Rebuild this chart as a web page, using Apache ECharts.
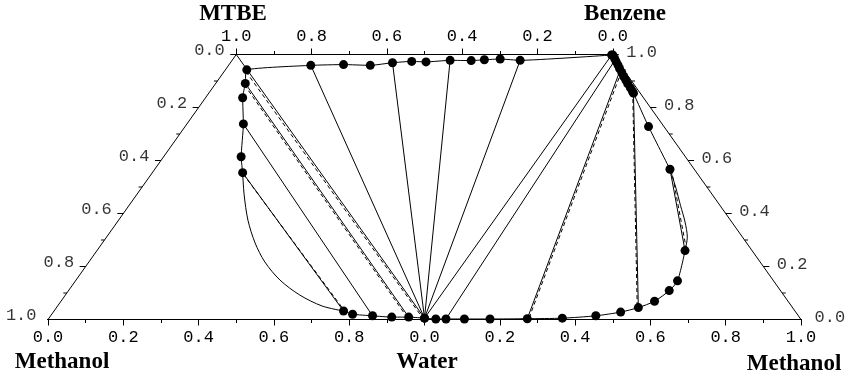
<!DOCTYPE html>
<html><head><meta charset="utf-8">
<script src="https://cdn.jsdelivr.net/npm/echarts@6/dist/echarts.min.js"></script>
<style>html,body{margin:0;padding:0;background:#fff}#c{width:857px;height:378px}</style>
</head><body><div id="c"></div>
<script>
// Unfolded diagram coordinates: x along the base (0 = Methanol, 1 = Water, 2 = Methanol), y = height fraction (1 = MTBE/Benzene edge)
const bottomLabels = ['0.0','0.2','0.4','0.6','0.8','0.0','0.2','0.4','0.6','0.8','1.0'];
const topLabels = ['0.0','0.2','0.4','0.6','0.8','1.0'];
const leftEdgeLabels = ['0.0','0.2','0.4','0.6','0.8','1.0'];   // top -> bottom
const rightEdgeLabels = ['1.0','0.8','0.6','0.4','0.2','0.0'];  // top -> bottom
const titles = ['MTBE','Benzene','Methanol','Water','Methanol'];

const leftBottom = [[1.000,0.005],[0.958,0.009],[0.913,0.009],[0.862,0.014],[0.809,0.020],[0.785,0.032]];
const leftArc = [[0.785,0.032],[0.728,0.051],[0.669,0.092],[0.616,0.149],[0.576,0.217],[0.550,0.289],
  [0.531,0.375],[0.521,0.470],[0.517,0.554]];
const leftTop = [[0.517,0.554],[0.513,0.614],[0.519,0.738],[0.517,0.837],[0.524,0.891],[0.528,0.942],
  [0.698,0.959],[0.785,0.962],[0.856,0.959],[0.915,0.969],[0.966,0.974],[1.004,0.972],[1.068,0.978],
  [1.124,0.977],[1.159,0.980],[1.201,0.983],[1.254,0.978],[1.497,0.998]];
const rightTop = [[1.500,0.998],[1.505,0.985],[1.509,0.973],[1.514,0.960],[1.518,0.947],[1.524,0.932],
  [1.529,0.917],[1.535,0.903],[1.540,0.889],[1.547,0.874],[1.552,0.862],[1.555,0.854],[1.595,0.728],[1.652,0.567]];
const rightArc = [[1.652,0.567],[1.667,0.500],[1.680,0.430],[1.692,0.368],[1.698,0.311],[1.692,0.260]];
const rightBottom = [[1.692,0.260],[1.672,0.146],[1.650,0.109],[1.611,0.069],[1.568,0.045],[1.521,0.028],
  [1.455,0.014],[1.366,0.005],[1.273,0.003],[1.174,0.002],[1.106,0.002],[1.057,0.002],[1.030,0.002],[1.000,0.005]];

const tieExp = [
  [[0.500,1.000],[1.000,0.005]],
  [[0.524,0.891],[0.958,0.009]],
  [[0.519,0.738],[0.862,0.014]],
  [[0.517,0.554],[0.785,0.032]],
  [[0.698,0.959],[1.000,0.005]],
  [[0.915,0.969],[1.000,0.005]],
  [[1.068,0.978],[1.000,0.005]],
  [[1.254,0.978],[1.000,0.005]],
  [[1.497,0.998],[1.000,0.005]],
  [[1.506,0.979],[1.057,0.002]],
  [[1.520,0.942],[1.273,0.003]],
  [[1.555,0.854],[1.568,0.045]],
  [[1.652,0.567],[1.692,0.260]]
];
const tieCalc = [
  [[0.526,0.935],[0.995,0.006]],
  [[0.522,0.885],[0.953,0.010]],
  [[0.519,0.548],[0.789,0.030]],
  [[1.523,0.936],[1.277,0.003]],
  [[1.553,0.858],[1.565,0.045]],
  [[1.656,0.565],[1.696,0.262]]
];

const black = '#000';
const monoFont = 'Liberation Mono';
const series = [];

function curve(data, smooth, sym) {
  series.push({type:'line', data:data, smooth:smooth, clip:false, silent:true,
    showSymbol:sym, symbol:'circle', symbolSize:9,
    itemStyle:{color:black}, lineStyle:{color:black, width:1}, z:5});
}
curve(leftBottom, 0.2, true);
curve(leftArc, 0.3, false);
curve(leftTop, 0.15, true);
curve(rightTop, 0.15, true);
curve(rightArc, 0.3, false);
curve(rightBottom, 0.25, true);

tieExp.forEach(s => series.push({type:'line', data:s, showSymbol:false, clip:false, silent:true,
  lineStyle:{color:black, width:1}, z:3}));
tieCalc.forEach(s => series.push({type:'line', data:s, showSymbol:false, clip:false, silent:true,
  lineStyle:{color:black, width:1, type:[4,3]}, z:3}));

// Slanted outer edges (left: MTBE-Methanol, right: Benzene-Methanol)
series.push({type:'line', data:[[0.5,1],[0,0]], showSymbol:false, clip:false, silent:true, lineStyle:{color:black,width:1}});
series.push({type:'line', data:[[1.5,1],[2,0]], showSymbol:false, clip:false, silent:true, lineStyle:{color:black,width:1}});
// Edge ticks
const unitPx = 376.5;
for (let k = 0; k <= 10; k++) {
  const t = k / 10;
  const len = (k % 2 === 0 ? 6 : 3.5) / unitPx;
  const lx = 0.5 - 0.5 * t, rx = 1.5 + 0.5 * t, y = 1 - t;
  series.push({type:'line', data:[[lx,y],[lx-len,y]], showSymbol:false, clip:false, silent:true, lineStyle:{color:black,width:1}});
  series.push({type:'line', data:[[rx,y],[rx+len,y]], showSymbol:false, clip:false, silent:true, lineStyle:{color:black,width:1}});
}
// Edge labels
const leftPts = leftEdgeLabels.map((s,i) => [0.5 - 0.1*i, 1 - 0.2*i, s]);
const rightPts = rightEdgeLabels.map((s,i) => [1.5 + 0.1*i, 1 - 0.2*i, s]);
const lblStyle = {fontFamily:monoFont, fontSize:17, color:black};
series.push({type:'scatter', data:leftPts, symbolSize:1, clip:false, silent:true, itemStyle:{color:'rgba(0,0,0,0)'},
  label:Object.assign({show:true, position:'left', distance:11, offset:[0,-4], formatter:p=>p.value[2]}, lblStyle)});
series.push({type:'scatter', data:rightPts, symbolSize:1, clip:false, silent:true, itemStyle:{color:'rgba(0,0,0,0)'},
  label:Object.assign({show:true, position:'right', distance:13, offset:[0,-2], formatter:p=>p.value[2]}, lblStyle)});

const titleFont = 'bold 23px "Liberation Serif"';
const titlePos = [[233,14],[625,14],[62,362],[427,362],[794,364]];
const graphic = titles.map((t,i) => ({type:'text', x:titlePos[i][0], y:titlePos[i][1],
  style:{text:t, font:titleFont, fill:black, textAlign:'center', textVerticalAlign:'middle'}}));

const chart = echarts.init(document.getElementById('c'), null, {renderer:'canvas'});
chart.setOption({
  animation:false,
  backgroundColor:'#fff',
  grid:[
    {left:48, right:56, top:54.5, height:265},
    {left:236.25, right:244.25, top:54.5, height:265}
  ],
  xAxis:[
    {type:'value', gridIndex:0, min:0, max:2, interval:0.2, position:'bottom',
      axisLine:{show:true, onZero:false, lineStyle:{color:black,width:1}},
      axisTick:{show:true, length:6, lineStyle:{color:black}},
      minorTick:{show:true, splitNumber:2, length:3.5, lineStyle:{color:black}},
      splitLine:{show:false},
      axisLabel:{margin:9, fontFamily:monoFont, fontSize:17, color:black,
        formatter:v => bottomLabels[Math.round(v/0.2)]}},
    {type:'value', gridIndex:1, min:0, max:1, interval:0.2, inverse:true, position:'top',
      axisLine:{show:true, onZero:false, lineStyle:{color:black,width:1}},
      axisTick:{show:true, length:6, lineStyle:{color:black}},
      minorTick:{show:true, splitNumber:2, length:3.5, lineStyle:{color:black}},
      splitLine:{show:false},
      axisLabel:{margin:10, fontFamily:monoFont, fontSize:17, color:black,
        formatter:v => topLabels[Math.round(v/0.2)]}}
  ],
  yAxis:[
    {type:'value', gridIndex:0, min:0, max:1, show:false},
    {type:'value', gridIndex:1, min:0, max:1, show:false}
  ],
  series:series,
  graphic:graphic
});
</script></body></html>
